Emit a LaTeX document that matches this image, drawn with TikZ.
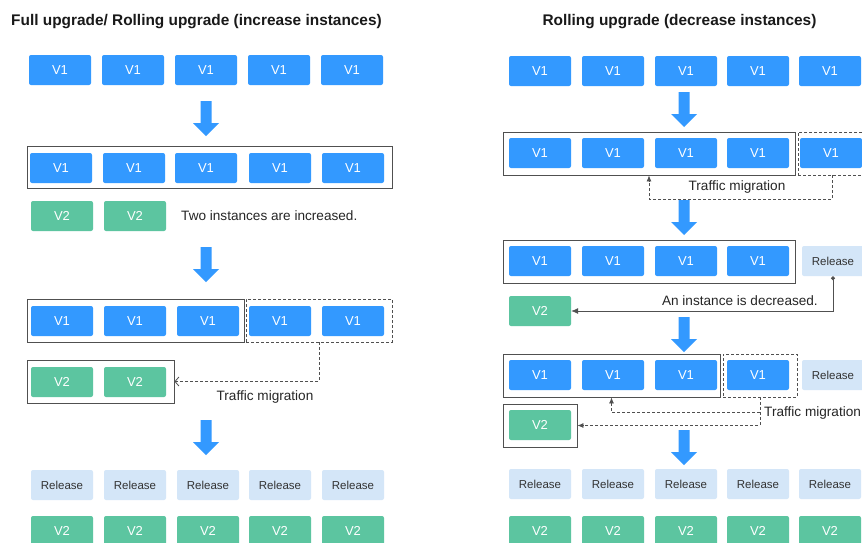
\documentclass[tikz,border=0pt]{standalone}
\usepackage{fontspec}
\setmainfont{Liberation Sans}
\usetikzlibrary{positioning,arrows.meta}
\definecolor{vblue}{HTML}{3399FF}
\definecolor{vgreen}{HTML}{5CC5A0}
\definecolor{relblue}{HTML}{D4E6F8}
\definecolor{framegray}{HTML}{505050}
\tikzset{>=Latex}
\tikzset{
  inst/.style={rounded corners=2pt, minimum width=62pt, minimum height=30pt,
    inner sep=0pt, font=\fontsize{13}{15}\selectfont, text=white},
  vone/.style={inst, fill=vblue},
  vtwo/.style={inst, fill=vgreen},
  rel/.style={inst, fill=relblue, text=black!80, font=\fontsize{11.5}{13}\selectfont},
  grp/.style={draw=framegray, line width=0.8pt, inner sep=0pt},
  dgrp/.style={grp, dash pattern=on 3pt off 2pt},
  note/.style={font=\fontsize{13.6}{15}\selectfont, text=black!85, inner sep=0pt},
  headline/.style={font=\fontsize{15.4}{18}\selectfont\bfseries, text=black!90, inner sep=0pt},
  migr/.style={draw=framegray, line width=0.8pt, dash pattern=on 3pt off 2pt},
  bigdown/.pic={\fill[vblue] (-5.5,0) -- (5.5,0) -- (5.5,22) -- (13,22) -- (0,35)
    -- (-13,22) -- (-5.5,22) -- cycle;}
}
\begin{document}
\begin{tikzpicture}[x=1pt,y=-1pt]
  \useasboundingbox[fill=white] (0,0) rectangle (862,542);
  % left: full upgrade / rolling upgrade (increase instances)
  \node[headline, anchor=west] (ltitle) at (11,22) {Full upgrade/ Rolling upgrade (increase instances)};
  \foreach \x [count=\i] in {60,133,206,279,352}
    \node[vone] (la\i) at (\x,70) {V1};
  \pic at (206,101) {bigdown};
  \node[grp, minimum width=365pt, minimum height=42pt] (lf2) at (209.5,167) {};
  \foreach \x [count=\i] in {61,134,206,280,353}
    \node[vone] (lb\i) at (\x,168) {V1};
  \node[vtwo] (lc1) at (62,216) {V2};
  \node[vtwo] (lc2) at (135,216) {V2};
  \node[note, anchor=west] (lnote) at (181,216) {Two instances are increased.};
  \pic at (206,247) {bigdown};
  \node[grp, minimum width=217pt, minimum height=43pt] (lf3) at (135.5,320.5) {};
  \node[dgrp, minimum width=146pt, minimum height=43pt] (lf3d) at (319,320.5) {};
  \foreach \x [count=\i] in {62,135,208,280,353}
    \node[vone] (ld\i) at (\x,321) {V1};
  \node[grp, minimum width=147pt, minimum height=43pt] (lv2f) at (100.5,381.5) {};
  \node[vtwo] (le1) at (62,382) {V2};
  \node[vtwo] (le2) at (135,382) {V2};
  \draw[migr, -{Straight Barb[length=4pt,width=9pt]}] (lf3d.south) |- (lv2f.east);
  \node[note] (lmig) at (265,397) {Traffic migration};
  \pic at (206,420) {bigdown};
  \foreach \x [count=\i] in {62,135,208,280,353} {
    \node[rel] (lr\i) at (\x,485) {Release};
    \node[vtwo] (lz\i) at (\x,531) {V2};
  }
  % right: rolling upgrade (decrease instances)
  \node[headline] (rtitle) at (679.5,22) {Rolling upgrade (decrease instances)};
  \foreach \x [count=\i] in {540,613,686,758,830}
    \node[vone] (ra\i) at (\x,71) {V1};
  \pic at (684,92) {bigdown};
  \node[grp, minimum width=292pt, minimum height=43pt] (rf2) at (649,153.5) {};
  \node[dgrp, minimum width=68pt, minimum height=43pt] (rf2d) at (832,153.5) {};
  \foreach \x [count=\i] in {540,613,686,758,831}
    \node[vone] (rb\i) at (\x,153) {V1};
  \draw[migr, -{Latex[length=6pt,width=5pt]}] (rf2d.south) -- ++(0,24) -| (rf2.south);
  \node[note] (rmig1) at (737,187) {Traffic migration};
  \pic at (684,200) {bigdown};
  \node[grp, minimum width=292pt, minimum height=43pt] (rf3) at (649,261.5) {};
  \foreach \x [count=\i] in {540,613,686,758}
    \node[vone] (rc\i) at (\x,261) {V1};
  \node[rel] (rrel3) at (833,261) {Release};
  \node[vtwo] (rv2) at (540,311) {V2};
  \draw[draw=framegray, line width=0.8pt, {Circle[length=4pt]}-{Latex[length=7pt,width=6pt]}]
    (rrel3.south) |- (rv2.east);
  \node[note, anchor=east] (rdec) at (818,301) {An instance is decreased.};
  \pic at (684,317) {bigdown};
  \node[grp, minimum width=217pt, minimum height=43pt] (rf4) at (611.5,375.5) {};
  \node[dgrp, minimum width=74pt, minimum height=43pt] (rf4d) at (760,375.5) {};
  \foreach \x [count=\i] in {540,613,686,758}
    \node[vone] (rd\i) at (\x,375) {V1};
  \node[rel] (rrel4) at (833,375) {Release};
  \node[grp, minimum width=74pt, minimum height=43pt] (rv2f) at (540,425.5) {};
  \node[vtwo] (re1) at (540,425) {V2};
  \draw[migr, -{Latex[length=6pt,width=5pt]}] (rf4d.south) -- ++(0,15) -| (rf4.south);
  \draw[migr, -{Latex[length=6pt,width=5pt]}] (rf4d.south) |- (rv2f.east);
  \node[note, anchor=west] (rmig2) at (764,413) {Traffic migration};
  \pic at (684,430) {bigdown};
  \foreach \x [count=\i] in {540,613,686,758,830} {
    \node[rel] (rr\i) at (\x,484) {Release};
    \node[vtwo] (rz\i) at (\x,531) {V2};
  }
\end{tikzpicture}
\end{document}
